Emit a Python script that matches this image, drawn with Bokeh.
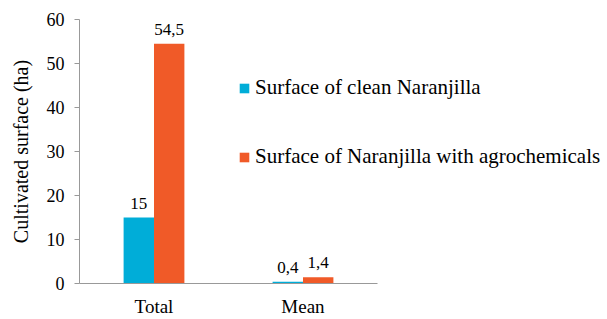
from bokeh.plotting import figure
from bokeh.models import ColumnDataSource, Range1d, FixedTicker, Legend, LegendItem, LabelSet
from bokeh.embed import file_html
from bokeh.resources import INLINE

categories = ["Total", "Mean"]
clean_values = [15, 0.4]
agro_values = [54.5, 1.4]
clean_labels = ["15", "0,4"]
agro_labels = ["54,5", "1,4"]
series_names = ["Surface of clean Naranjilla", "Surface of Naranjilla with agrochemicals"]
y_ticks = [0, 10, 20, 30, 40, 50, 60]

BLUE = "#00ADD8"
ORANGE = "#F05A28"
FONT = "Liberation Serif"

off = 0.102
w = 0.204
centers = [i + 0.5 for i in range(len(categories))]
src = ColumnDataSource(dict(
    xc=[c - off for c in centers], xa=[c + off for c in centers],
    clean=clean_values, agro=agro_values,
    clean_lab=clean_labels, agro_lab=agro_labels))

W, H = 607, 319
left, top, bottom = 79, 19, 36
frame_w = W - left
x_end = len(categories) * frame_w / 298.0  # axis line covers categories only

p = figure(x_range=Range1d(0, x_end), y_range=Range1d(0, 60),
           width=W, height=H, output_backend="svg", toolbar_location=None,
           min_border_left=left, min_border_right=0, min_border_top=top, min_border_bottom=bottom)

r1 = p.vbar(x="xc", top="clean", width=w, source=src, fill_color=BLUE, line_color=None)
r2 = p.vbar(x="xa", top="agro", width=w, source=src, fill_color=ORANGE, line_color=None)

for xcol, col, lab in [("xc", "clean", "clean_lab"), ("xa", "agro", "agro_lab")]:
    ls = LabelSet(x=xcol, y=col, text=lab, source=src,
                  text_align="center", text_baseline="bottom", y_offset=9,
                  text_font=FONT, text_font_size="17px", text_color="#000000")
    p.add_layout(ls)

p.xgrid.visible = False
p.ygrid.visible = False
p.outline_line_color = None

p.yaxis.ticker = FixedTicker(ticks=y_ticks)
p.yaxis.minor_tick_line_color = None
p.yaxis.major_tick_out = 5
p.yaxis.major_tick_in = 0
p.yaxis.major_tick_line_color = "#999999"
p.yaxis.axis_line_color = "#999999"
p.yaxis.major_label_standoff = 10
p.yaxis.major_label_text_font = FONT
p.yaxis.major_label_text_font_size = "18px"
p.yaxis.major_label_text_color = "#000000"
p.yaxis.axis_label = "Cultivated surface (ha)"
p.yaxis.axis_label_text_font = FONT
p.yaxis.axis_label_text_font_size = "20px"
p.yaxis.axis_label_text_font_style = "normal"
p.yaxis.axis_label_text_color = "#000000"
p.yaxis.axis_label_standoff = 12

p.xaxis.ticker = FixedTicker(ticks=centers)
p.xaxis.major_label_overrides = {c: name for c, name in zip(centers, categories)}
p.xaxis.bounds = (0, len(categories))
p.xaxis.major_tick_line_color = None
p.xaxis.minor_tick_line_color = None
p.xaxis.axis_line_color = "#999999"
p.xaxis.major_label_standoff = 6
p.xaxis.major_label_text_font = FONT
p.xaxis.major_label_text_font_size = "19px"
p.xaxis.major_label_text_color = "#000000"

legend = Legend(items=[LegendItem(label=series_names[0], renderers=[r1]),
                       LegendItem(label=series_names[1], renderers=[r2])],
                location=(159, 114), orientation="vertical",
                glyph_width=12, glyph_height=12, label_standoff=5,
                label_height=21, spacing=44, padding=0, margin=0,
                border_line_color=None, background_fill_alpha=0,
                label_text_font=FONT, label_text_font_size="21px",
                label_text_color="#000000", label_text_baseline="middle")
p.add_layout(legend)

open("out.html", "w").write(file_html(p, INLINE))
